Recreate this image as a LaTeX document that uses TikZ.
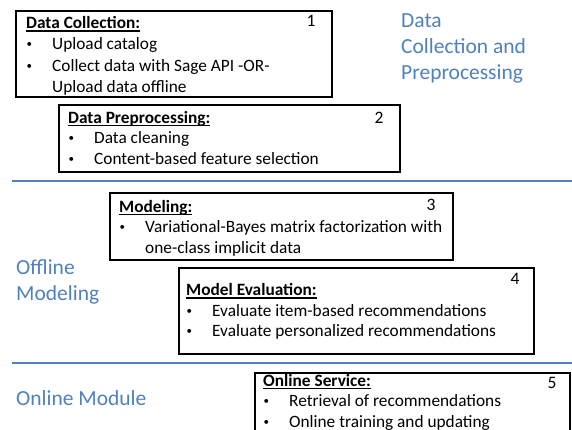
\documentclass[tikz,border=0pt]{standalone}
\usepackage{fontspec}
\setmainfont{Carlito}
\usetikzlibrary{positioning}
\definecolor{azulfase}{HTML}{4F81BD}
\newsavebox{\cajatitulo}
\newcommand{\titulo}[1]{\strut\sbox{\cajatitulo}{\textbf{#1}}\rlap{\rule[-2.9pt]{\wd\cajatitulo}{1.3pt}}\usebox{\cajatitulo}}
\newcommand{\punto}[1]{\makebox[26pt][l]{\hspace{0.5pt}\raisebox{2pt}{\fontsize{11}{11}\selectfont\textbullet}}#1}
\newcommand{\sigue}[1]{\hspace*{26pt}#1}

\begin{document}
\begin{tikzpicture}[x=1pt, y=-1pt,
    stepbox/.style={draw, line width=2pt, anchor=north west, inner sep=0pt},
    steptext/.style={align=left, inner sep=0pt, font=\fontsize{17.3}{20.5}\selectfont},
    stepnum/.style={inner sep=0pt, font=\fontsize{17.5}{20.5}\selectfont},
    fase/.style={text=azulfase, anchor=north west, align=left, inner sep=0pt, font=\fontsize{21.5}{26}\selectfont},
    separador/.style={azulfase, line width=2.5pt}]
        \useasboundingbox (0,0) rectangle (572,430);
        % separadores de fases
        \draw[separador] (12,181) -- (572,181);
        \draw[separador] (12,363) -- (572,363);
        % nombres de fases
        \node[fase] (fase-datos) at (401,9.3) {\strut Data\\Collection and\\Preprocessing};
        \node[fase] (fase-offline) at (16,255.8) {\strut Offline\\Modeling};
        \node[fase] (fase-online) at (16,386.8) {\strut Online Module};
        % cajas de pasos
        \node[stepbox, minimum width=316pt, minimum height=86pt] (collect) at (15,10) {};
        \node[stepbox, minimum width=341pt, minimum height=67pt] (preproc) at (58,104) {};
        \node[stepbox, minimum width=343pt, minimum height=67pt] (modeling) at (109,192) {};
        \node[stepbox, minimum width=355pt, minimum height=86pt] (evaluation) at (178,267) {};
        \node[stepbox, minimum width=315pt, minimum height=70pt] (service) at (254,372) {};
        % textos
        \node[steptext, font=\fontsize{17.3}{21.2}\selectfont, below right=3.65pt and 11pt of collect.north west] (collect-txt)
          {\titulo{Data Collection:}\\\punto{Upload catalog}\\\punto{Collect data with Sage API -OR-}\\\sigue{Upload data offline}};
        \node[steptext, below right=4.5pt and 10pt of preproc.north west] (preproc-txt)
          {\titulo{Data Preprocessing:}\\\punto{Data cleaning}\\\punto{Content-based feature selection}};
        \node[steptext, below right=5.8pt and 10pt of modeling.north west] (modeling-txt)
          {\titulo{Modeling:}\\\punto{Variational-Bayes matrix factorization with}\\\sigue{one-class implicit data}};
        \node[steptext, below right=14.2pt and 8pt of evaluation.north west] (evaluation-txt)
          {\titulo{Model Evaluation:}\\\punto{Evaluate item-based recommendations}\\\punto{Evaluate personalized recommendations}};
        \node[steptext, below right=-0.35pt and 9pt of service.north west] (service-txt)
          {\titulo{Online Service:}\\\punto{Retrieval of recommendations}\\\punto{Online training and updating}};
        % numeros
        \node[stepnum] (collect-num) at ([shift={(-22,11)}]collect.north east) {1};
        \node[stepnum] (preproc-num) at ([shift={(-22,14)}]preproc.north east) {2};
        \node[stepnum] (modeling-num) at ([shift={(-23,13)}]modeling.north east) {3};
        \node[stepnum] (evaluation-num) at ([shift={(-20,12)}]evaluation.north east) {4};
        \node[stepnum] (service-num) at ([shift={(-19,11)}]service.north east) {5};
      \end{tikzpicture}
\end{document}
